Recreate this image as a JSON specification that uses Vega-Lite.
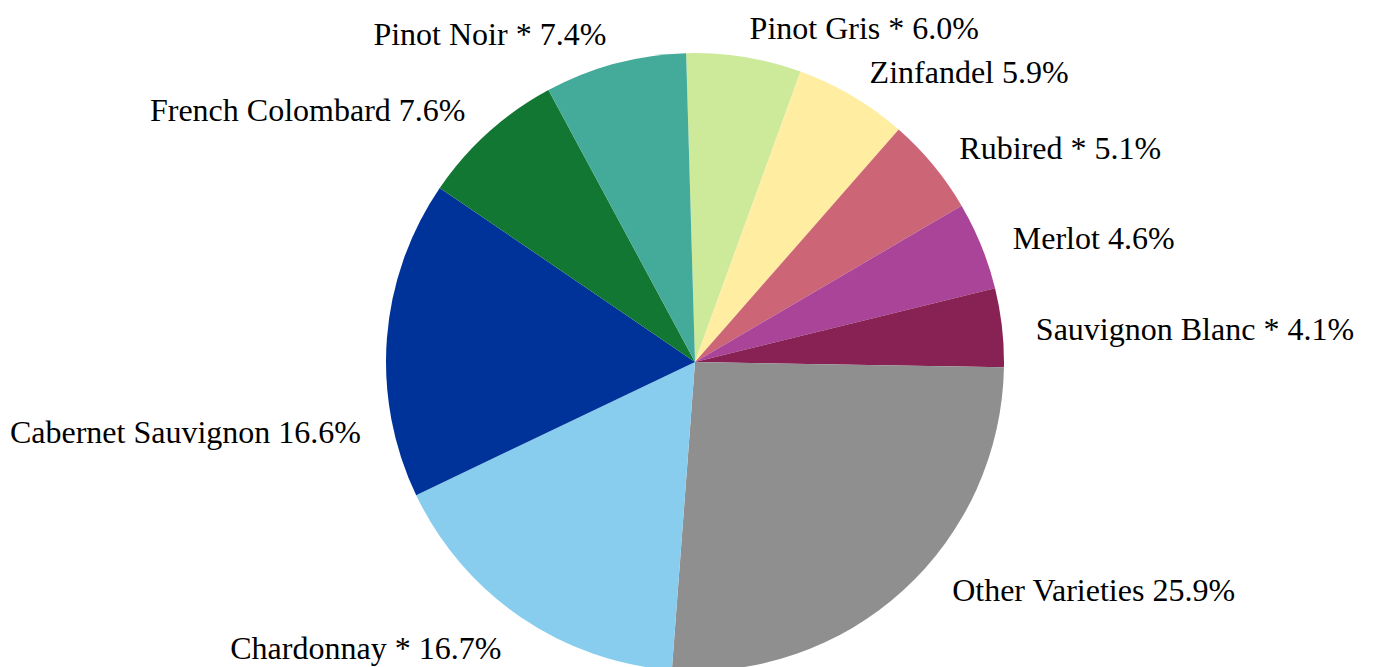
{
  "$schema": "https://vega.github.io/schema/vega-lite/v6.json",
  "autosize": "none",
  "width": 1380,
  "height": 610,
  "padding": {"left": 5, "right": 0, "top": 57, "bottom": 0},
  "background": "white",
  "config": {"view": {"stroke": null}},
  "data": {
    "values": [
      {"idx": 1, "variety": "Pinot Gris", "label": "Pinot Gris * 6.0%", "pct": 6.0},
      {"idx": 2, "variety": "Zinfandel", "label": "Zinfandel 5.9%", "pct": 5.9},
      {"idx": 3, "variety": "Rubired", "label": "Rubired * 5.1%", "pct": 5.1},
      {"idx": 4, "variety": "Merlot", "label": "Merlot 4.6%", "pct": 4.6},
      {"idx": 5, "variety": "Sauvignon Blanc", "label": "Sauvignon Blanc * 4.1%", "pct": 4.1},
      {"idx": 6, "variety": "Other Varieties", "label": "Other Varieties 25.9%", "pct": 25.9},
      {"idx": 7, "variety": "Chardonnay", "label": "Chardonnay * 16.7%", "pct": 16.7},
      {"idx": 8, "variety": "Cabernet Sauvignon", "label": "Cabernet Sauvignon 16.6%", "pct": 16.6},
      {"idx": 9, "variety": "French Colombard", "label": "French Colombard 7.6%", "pct": 7.6},
      {"idx": 10, "variety": "Pinot Noir", "label": "Pinot Noir * 7.4%", "pct": 7.4}
    ]
  },
  "transform": [
    {"window": [{"op": "sum", "field": "pct", "as": "cum"}], "sort": [{"field": "idx"}], "frame": [null, 0]},
    {"calculate": "datum.cum - datum.pct / 2", "as": "mid"}
  ],
  "layer": [
    {
      "mark": {"type": "arc", "outerRadius": 309},
      "encoding": {
        "theta": {"field": "pct", "type": "quantitative", "stack": true, "scale": {"domain": [0, 99.9], "range": [-0.0288, 6.2544]}},
        "order": {"field": "idx", "type": "quantitative"},
        "color": {
          "field": "variety",
          "type": "nominal",
          "legend": null,
          "scale": {
            "domain": ["Pinot Gris", "Zinfandel", "Rubired", "Merlot", "Sauvignon Blanc", "Other Varieties", "Chardonnay", "Cabernet Sauvignon", "French Colombard", "Pinot Noir"],
            "range": ["#cdea9b", "#ffeea1", "#cc6677", "#aa4499", "#882255", "#8f8f8f", "#88ccee", "#003399", "#117733", "#44aa99"]
          }
        }
      }
    },
    {
      "transform": [{"filter": "datum.mid < 49.95 && datum.variety != 'Other Varieties'"}],
      "mark": {"type": "text", "radius": 343, "dy": 6, "align": "left", "baseline": "middle", "font": "Liberation Serif", "fontSize": 32, "color": "black"},
      "encoding": {
        "theta": {"field": "mid", "type": "quantitative", "stack": null},
        "text": {"field": "label"}
      }
    },
    {
      "transform": [{"filter": "datum.variety == 'Other Varieties'"}],
      "mark": {"type": "text", "radius": 343, "dx": 26, "dy": -24, "align": "left", "baseline": "middle", "font": "Liberation Serif", "fontSize": 32, "color": "black"},
      "encoding": {
        "theta": {"field": "mid", "type": "quantitative", "stack": null},
        "text": {"field": "label"}
      }
    },
    {
      "transform": [{"filter": "datum.mid >= 49.95 && datum.variety != 'Cabernet Sauvignon'"}],
      "mark": {"type": "text", "radius": 343, "dy": 4, "align": "right", "baseline": "middle", "font": "Liberation Serif", "fontSize": 32, "color": "black"},
      "encoding": {
        "theta": {"field": "mid", "type": "quantitative", "stack": null},
        "text": {"field": "label"}
      }
    },
    {
      "transform": [{"filter": "datum.variety == 'Cabernet Sauvignon'"}],
      "mark": {"type": "text", "radius": 343, "dx": 8, "dy": 97, "align": "right", "baseline": "middle", "font": "Liberation Serif", "fontSize": 32, "color": "black"},
      "encoding": {
        "theta": {"field": "mid", "type": "quantitative", "stack": null},
        "text": {"field": "label"}
      }
    }
  ]
}
